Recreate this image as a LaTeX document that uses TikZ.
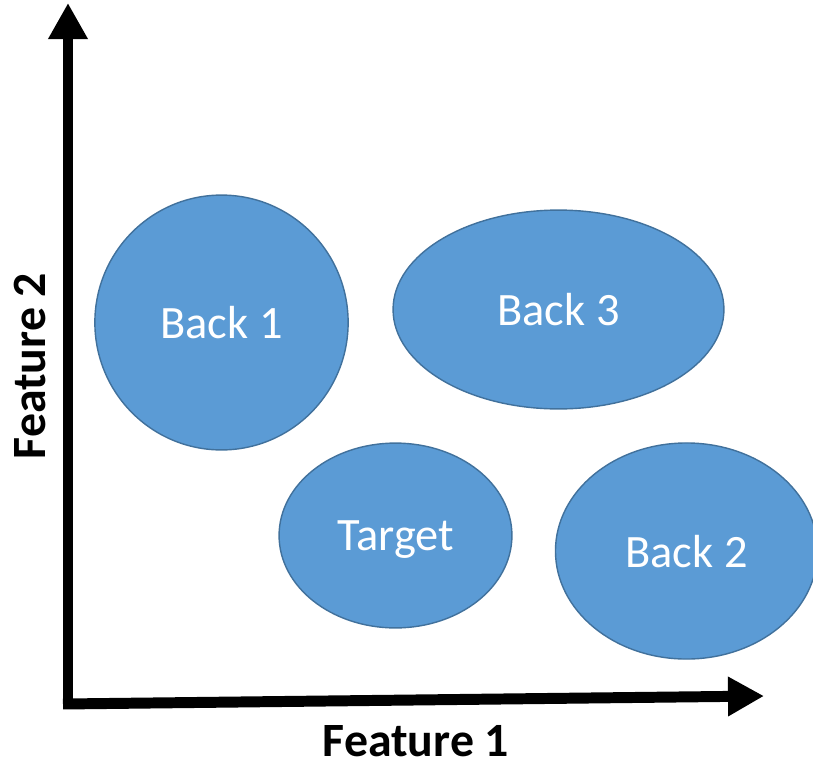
\documentclass[tikz,border=0pt]{standalone}
\usepackage{fontspec}
\setmainfont{Carlito}
\usetikzlibrary{arrows.meta,shapes.geometric}
\definecolor{clusterfill}{HTML}{5B9BD5}
\definecolor{clusterline}{HTML}{41719C}
\tikzset{
    axis/.style={line width=7.8pt,-{Triangle[length=0.9cm,width=0.93cm]}},
    cluster/.style={ellipse,draw=clusterline,fill=clusterfill,line width=1pt,
        text=white,font=\fontsize{33}{36}\selectfont,inner sep=0pt,text depth=0pt},
    axislabel/.style={font=\bfseries\fontsize{34}{38}\selectfont,inner sep=0pt,text depth=0pt}
}
\begin{document}
\begin{tikzpicture}[x=0.025cm,y=-0.025cm]
        \useasboundingbox (0,0) rectangle (813,763);
        % Assi
        \coordinate (origin) at (68,704);
        \coordinate (ytip) at (68,3);
        \coordinate (xstart) at (63,704);
        \coordinate (xtip) at (764,696);
        \draw [axis] (origin) -- (ytip);
        \draw [axis] (xstart) -- (xtip);
        % Nomi degli assi
        \node [axislabel] (f1) at (416,741) {Feature 1};
        \node [axislabel, rotate=90] (f2) at (30,366) {Feature 2};
        % Gruppi
        \node [cluster, minimum width=6.33cm, minimum height=6.37cm] (back1) at (221.5,322.5) {Back 1};
        \node [cluster, minimum width=8.27cm, minimum height=4.97cm] (back3) at (558.5,309.5) {Back 3};
        \node [cluster, minimum width=5.82cm, minimum height=4.62cm] (target) at (395.5,535.5) {Target};
        \node [cluster, minimum width=6.55cm, minimum height=5.4cm] (back2) at (686.5,551) {Back 2};
    \end{tikzpicture}
\end{document}
